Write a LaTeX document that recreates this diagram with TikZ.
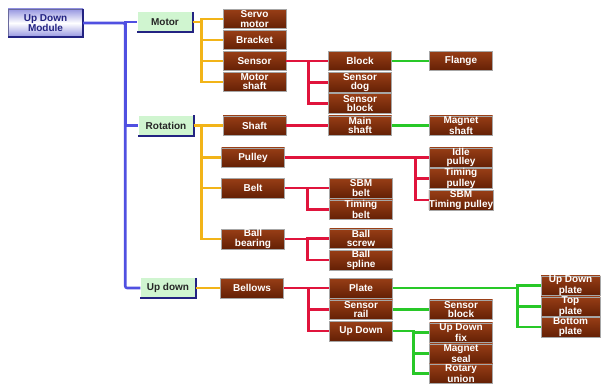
\documentclass[tikz,border=0pt]{standalone}
\usepackage{fontspec}
\setmainfont{Liberation Sans}
\usepackage{tikz}
\definecolor{lineblue}{RGB}{80, 80, 225}
\definecolor{lineyellow}{RGB}{242, 180, 24}
\definecolor{linered}{RGB}{224, 20, 60}
\definecolor{linegreen}{RGB}{40, 200, 40}
\definecolor{partbrown}{RGB}{125, 45, 10}
\definecolor{parttop}{RGB}{152, 62, 22}
\definecolor{partbot}{RGB}{100, 32, 5}
\definecolor{groupgreen}{RGB}{208, 245, 208}
\definecolor{rootblue}{RGB}{150, 150, 225}
\definecolor{navy}{RGB}{35, 35, 130}

\begin{document}
\begin{tikzpicture}[x=1pt, y=-1pt,
    root/.style={rectangle, top color=rootblue, bottom color=rootblue,
                 middle color=white, draw=rootblue!70!black, line width=0.4pt,
                 minimum width=75pt, minimum height=28pt, inner sep=0pt,
                 align=center, text=navy,
                 font=\fontsize{10}{9.5}\selectfont\bfseries},
    grp/.style={rectangle, fill=groupgreen, minimum width=55pt,
                minimum height=20pt, inner sep=0pt, text=black!85,
                font=\fontsize{10}{9.5}\selectfont\bfseries},
    part/.style={rectangle, top color=parttop, bottom color=partbot,
                 draw=black!35, line width=0.5pt, minimum width=63pt,
                 minimum height=19.5pt, inner sep=0pt, align=center,
                 text=white, font=\fontsize{10}{9.2}\selectfont\bfseries},
    shade/.style={navy, line width=1.6pt},
    bl/.style={lineblue, line width=2.6pt},
    yl/.style={lineyellow, line width=2.6pt},
    rl/.style={linered, line width=2.6pt},
    gl/.style={linegreen, line width=2.6pt}]

    \useasboundingbox (0,0) rectangle (601,385);

    % top
    \node[root] (module) at (45.5,23) {Up Down\\Module};

    % groups
    \node[grp] (motor)    at (165,22)  {Motor};
    \node[grp] (rotation) at (166,125.5) {Rotation};
    \node[grp] (updown)   at (168,288) {Up down};

    % parts, first level
    \node[part] (servo)   at (254.5,19)   {Servo\\motor};
    \node[part] (bracket) at (254.5,40)   {Bracket};
    \node[part] (sensor)  at (254.5,61)   {Sensor};
    \node[part] (mshaft)  at (254.5,82)   {Motor\\shaft};
    \node[part] (shaft)   at (254.5,125.5) {Shaft};
    \node[part] (pulley)  at (253,157.5)  {Pulley};
    \node[part] (belt)    at (253,188)    {Belt};
    \node[part] (ballb)   at (253,239)    {Ball\\bearing};
    \node[part] (bellows) at (252,288)    {Bellows};

    % parts, second level
    \node[part] (block)     at (360,61)    {Block};
    \node[part] (sdog)      at (360,82.5)  {Sensor\\dog};
    \node[part] (sblocka)   at (360,103.5) {Sensor\\block};
    \node[part] (mainshaft) at (360,125.5) {Main\\shaft};
    \node[part] (sbmbelt)   at (361,188)   {SBM\\belt};
    \node[part] (tbelt)     at (361,209.5) {Timing\\belt};
    \node[part] (bscrew)    at (361,238.5) {Ball\\screw};
    \node[part] (bspline)   at (361,260)   {Ball\\spline};
    \node[part] (plate)     at (361,288)   {Plate};
    \node[part] (srail)     at (361,309.5) {Sensor\\rail};
    \node[part] (udown)     at (361,331)   {Up Down};

    % parts, third level
    \node[part] (flange)  at (461,61)    {Flange};
    \node[part] (mgshaft) at (461,125.5) {Magnet\\shaft};
    \node[part] (idle)    at (461,157.5) {Idle\\pulley};
    \node[part] (tpulley) at (461,178.5) {Timing\\pulley};
    \node[part] (sbmtp)   at (461,200)   {SBM\\Timing pulley};
    \node[part] (sblockb) at (461,309.5) {Sensor\\block};
    \node[part] (udfix)   at (461,332.5) {Up Down\\fix};
    \node[part] (mseal)   at (461,353.5) {Magnet\\seal};
    \node[part] (rotary)  at (461,373.5) {Rotary\\union};

    % parts, fourth level
    \node[part, minimum width=59pt] (udplate) at (570.5,285.5) {Up Down\\plate};
    \node[part, minimum width=59pt] (tplate)  at (570.5,306.5) {Top\\plate};
    \node[part, minimum width=59pt] (bplate)  at (570.5,327)   {Bottom\\plate};

    % shadow edges
    \foreach \n in {module, motor, rotation, updown}
        \draw[shade] (\n.north east) -- (\n.south east) -- (\n.south west);

    % blue links
    \draw[bl] (module.east) -- ++(42,0) |- (motor.west);
    \draw[bl] (module.east) -- ++(42,0) |- (rotation.west);
    \draw[bl, rounded corners=2pt] (module.east) -- ++(42,0) |- (updown.west);

    % yellow links
    \foreach \c in {servo, bracket, sensor, mshaft}
        \draw[yl] (motor.east) -- ++(9,0) |- (\c.west);
    \foreach \c in {shaft, pulley, belt, ballb}
        \draw[yl] (rotation.east) -- ++(8,0) |- (\c.west);
    \draw[yl] (updown.east) -- (bellows.west);

    % red links
    \foreach \c in {block, sdog, sblocka}
        \draw[rl] (sensor.east) -- ++(22,0) |- (\c.west);
    \draw[rl] (shaft.east) -- (mainshaft.west);
    \foreach \c in {idle, tpulley, sbmtp}
        \draw[rl] (pulley.east) -- ++(130.5,0) |- (\c.west);
    \foreach \c in {sbmbelt, tbelt}
        \draw[rl] (belt.east) -- ++(23,0) |- (\c.west);
    \foreach \c in {bscrew, bspline}
        \draw[rl] (ballb.east) -- ++(23,0) |- (\c.west);
    \foreach \c in {plate, srail, udown}
        \draw[rl] (bellows.east) -- ++(24.5,0) |- (\c.west);

    % green links
    \draw[gl] (block.east) -- (flange.west);
    \draw[gl] (mainshaft.east) -- (mgshaft.west);
    \foreach \c in {udplate, tplate, bplate}
        \draw[gl] (plate.east) -- ++(125,0) |- (\c.west);
    \draw[gl] (srail.east) -- (sblockb.west);
    \foreach \c in {udfix, mseal, rotary}
        \draw[gl] (udown.east) -- ++(21,0) |- (\c.west);

\end{tikzpicture}
\end{document}
